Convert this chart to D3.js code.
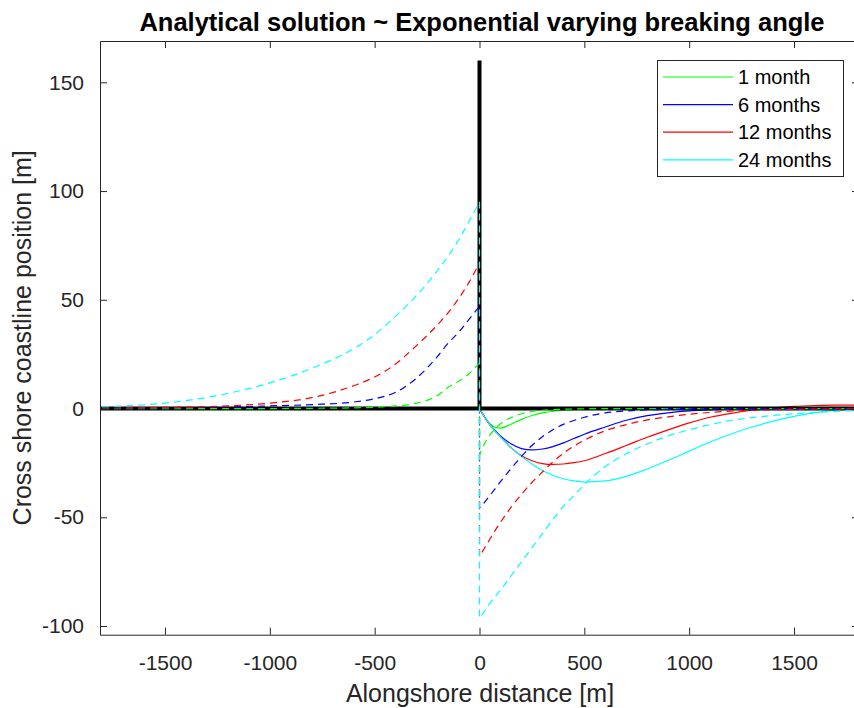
<!DOCTYPE html>
<html>
<head>
<meta charset="utf-8">
<script src="https://cdn.jsdelivr.net/npm/d3@7"></script>
<style>
  html, body { margin: 0; padding: 0; background: #fff; }
  svg { display: block; font-family: "Liberation Sans", Arial, Helvetica, sans-serif; }
</style>
</head>
<body>
<svg id="chart" width="854" height="708"></svg>
<script>
// ---------------- DATA ----------------
const seriesNames = ["1 month", "6 months", "12 months", "24 months"];
const seriesColors = ["#00ff00", "#0000ff", "#ff0000", "#00ffff"];

const xTicks = [-1500, -1000, -500, 0, 500, 1000, 1500];
const yTicks = [-100, -50, 0, 50, 100, 150];

// alongshore positions, left (updrift) of the groin
const xLeft = [-1800, -1500, -1250, -1000, -800, -600, -500, -400, -300, -200, -150, -100, -50, 0];
// alongshore positions, right (downdrift) of the groin
const xRight = [0, 25, 50, 75, 100, 150, 200, 250, 300, 350, 400, 450, 500, 600, 700, 800, 900, 1000, 1100, 1200, 1300, 1400, 1500, 1600, 1700, 1800];

// dashed curves, left side
const dashLeft1  = [0, 0, 0, 0, 0.1, 0.3, 0.6, 1.2, 2.5, 6, 9.8, 12.5, 16, 21];
const dashLeft6  = [0.1, 0.3, 0.6, 1.2, 1.8, 3, 4.5, 7.5, 14, 24, 30, 35, 41, 47];
const dashLeft12 = [0.2, 0.5, 1, 2.5, 5, 10.5, 14.5, 20.5, 29, 38.5, 44, 50.5, 58, 67];
const dashLeft24 = [0.8, 2.5, 6, 11.8, 18.5, 27.5, 34, 42.5, 52, 63.5, 70, 77.5, 86, 95];

// dashed curves, right side
const dashRight1  = [-21.3, -16, -12.1, -9.3, -7, -4.2, -2.4, -1.4, -0.8, -0.5, -0.3, -0.2, -0.1, 0, 0, 0, 0, 0, 0, 0, 0, 0, 0, 0, 0, 0];
const dashRight6  = [-45.8, -43, -40, -36.8, -33.6, -27.7, -22, -17, -13, -9.8, -7.3, -5.5, -4, -2, -1.1, -0.6, -0.4, -0.2, -0.1, 0, 0, 0, 0, 0, 0, 0];
const dashRight12 = [-68, -64, -60, -56, -52.3, -45.5, -39.5, -34, -29.2, -24.6, -20.6, -17.3, -14.6, -10.2, -7.4, -5.2, -3.8, -2.6, -1.8, -1.2, -0.8, -0.6, -0.4, -0.3, -0.2, -0.1];
const dashRight24 = [-96.4, -93, -89.5, -86.5, -83.5, -77, -70.5, -64, -57.5, -51, -45, -40, -35, -26.7, -20.8, -16.3, -12.5, -9.8, -7.4, -5.5, -4.2, -3.2, -2.4, -1.8, -1.3, -0.9];

// solid curves, left side
const solidLeft1  = [0, 0, 0, 0, 0, 0, 0, 0, 0, 0, 0, 0, 0, 0];
const solidLeft6  = [0, 0, 0, 0, 0, 0, 0, 0, 0, 0, 0, 0, 0, 0];
const solidLeft12 = [0, 0, 0, 0, 0, 0, 0, 0, 0, 0, 0, 0, 0, 0];
const solidLeft24 = [0, 0, 0, 0, 0, 0, 0, 0, 0, 0, 0, 0, 0, 0];

// solid curves, right side
const solidRight1  = [0, -4, -7, -8.7, -9, -7.2, -5, -3.2, -2, -1.3, -0.8, -0.5, -0.3, -0.1, 0, 0, 0, 0, 0, 0, 0, 0, 0, 0, 0, 0];
const solidRight6  = [0, -4, -7.5, -10.2, -12.6, -16.2, -18.4, -19, -18.6, -17.5, -15.8, -13.8, -11.8, -8.5, -5.4, -3.3, -2, -1.1, -0.6, -0.3, -0.1, 0, 0, 0, 0, 0];
const solidRight12 = [0, -4, -7.5, -10.5, -13, -18, -21.7, -24, -25.3, -25.7, -25.5, -24.9, -24, -20.7, -17, -13.2, -9.8, -6.6, -4, -2.2, -0.8, 0.3, 1, 1.4, 1.6, 1.6];
const solidRight24 = [0, -4, -7.5, -10.5, -13, -18, -22, -25.5, -28.5, -30.7, -32.3, -33.3, -33.8, -33.3, -31.2, -27.8, -23.8, -19.6, -15.4, -11.7, -8.5, -5.8, -3.6, -1.9, -0.7, 0.2];

// groin (thick black) and initial coastline
const groinX = [0, 0];
const groinY = [0, 160];
const coastX = [-1810, 1810];
const coastY = [0, 0];

const xDomain = [-1810, 1810];
const yDomain = [-104, 169];

// ---------------- DRAWING ----------------
(function () {
const svg = d3.select("#chart");
const pLeft = 100, pRight = 859, pTop = 41, pBottom = 634.7;
const x = d3.scaleLinear().domain(xDomain).range([pLeft, pRight]);
const y = d3.scaleLinear().domain(yDomain).range([pBottom, pTop]);

const axisColor = "#262626";
const fontFam = "'Liberation Sans', Arial, Helvetica, sans-serif";

svg.append("defs").append("clipPath").attr("id", "clip")
  .append("rect").attr("x", pLeft).attr("y", pTop).attr("width", pRight - pLeft).attr("height", pBottom - pTop);

const plot = svg.append("g").attr("clip-path", "url(#clip)");

const smooth = d3.line().x(d => x(d[0])).y(d => y(d[1])).curve(d3.curveMonotoneX);
function joined(xl, yl, xr, yr) {
  const a = smooth(d3.zip(xl, yl));
  const b = smooth(d3.zip(xr, yr));
  return a + "L" + b.slice(1);
}

const dashL = [dashLeft1, dashLeft6, dashLeft12, dashLeft24];
const dashR = [dashRight1, dashRight6, dashRight12, dashRight24];
const solL = [solidLeft1, solidLeft6, solidLeft12, solidLeft24];
const solR = [solidRight1, solidRight6, solidRight12, solidRight24];

// solid curves first
for (let i = 0; i < 4; i++) {
  plot.append("path").attr("d", joined(xLeft, solL[i], xRight, solR[i]))
    .attr("fill", "none").attr("stroke", seriesColors[i]).attr("stroke-width", 1.2);
}

// black reference lines
const straight = d3.line().x(d => x(d[0])).y(d => y(d[1]));
plot.append("path").attr("d", straight(d3.zip(coastX, coastY)))
  .attr("fill", "none").attr("stroke", "#000").attr("stroke-width", 4);
plot.append("path").attr("d", straight(d3.zip(groinX, groinY)))
  .attr("fill", "none").attr("stroke", "#000").attr("stroke-width", 4);

// dashed curves on top
for (let i = 0; i < 4; i++) {
  plot.append("path").attr("d", joined(xLeft, dashL[i], xRight, dashR[i]))
    .attr("fill", "none").attr("stroke", seriesColors[i]).attr("stroke-width", 1.2)
    .attr("stroke-dasharray", "7,5");
}

// axes
const tickLen = 7;
const fmt = d => String(d);
const xAxisB = d3.axisBottom(x).tickValues(xTicks).tickSizeInner(-tickLen).tickSizeOuter(0).tickPadding(20).tickFormat(fmt);
const xAxisT = d3.axisTop(x).tickValues(xTicks).tickSizeInner(-tickLen).tickSizeOuter(0).tickFormat("");
const yAxisL = d3.axisLeft(y).tickValues(yTicks).tickSizeInner(-tickLen).tickSizeOuter(0).tickPadding(16).tickFormat(fmt);
const yAxisR = d3.axisRight(y).tickValues(yTicks).tickSizeInner(-tickLen).tickSizeOuter(0).tickFormat("");

function style(g) {
  g.select(".domain").attr("stroke", axisColor).attr("stroke-width", 1);
  g.selectAll(".tick line").attr("stroke", axisColor).attr("stroke-width", 1);
  g.selectAll(".tick text").attr("fill", axisColor).attr("font-size", 21)
    .attr("font-family", fontFam);
}
svg.append("g").attr("transform", `translate(0,${pBottom})`).call(xAxisB).call(style);
svg.append("g").attr("transform", `translate(0,${pTop})`).call(xAxisT).call(style);
svg.append("g").attr("transform", `translate(${pLeft},0)`).call(yAxisL).call(style);
svg.append("g").attr("transform", `translate(${pRight},0)`).call(yAxisR).call(style);

// labels
svg.append("text").attr("x", 482).attr("y", 31).attr("text-anchor", "middle")
  .attr("font-size", 25.5).attr("font-weight", "bold").attr("fill", "#000").attr("font-family", fontFam)
  .text("Analytical solution ~ Exponential varying breaking angle");
svg.append("text").attr("x", 480).attr("y", 702).attr("text-anchor", "middle")
  .attr("font-size", 25).attr("fill", axisColor).attr("font-family", fontFam).text("Alongshore distance [m]");
svg.append("text").attr("transform", `translate(31,${(pTop + pBottom) / 2}) rotate(-90)`).attr("text-anchor", "middle")
  .attr("font-size", 25).attr("fill", axisColor).attr("font-family", fontFam).text("Cross shore coastline position [m]");

// legend
const lg = svg.append("g");
lg.append("rect").attr("x", 657.5).attr("y", 60.5).attr("width", 186).attr("height", 116)
  .attr("fill", "#fff").attr("stroke", axisColor).attr("stroke-width", 1);
seriesNames.forEach((name, i) => {
  const yy = 77 + i * 27.6;
  lg.append("line").attr("x1", 663).attr("x2", 733).attr("y1", yy).attr("y2", yy)
    .attr("stroke", seriesColors[i]).attr("stroke-width", 1.2);
  lg.append("text").attr("x", 738).attr("y", yy + 7).attr("font-size", 20).attr("fill", "#000")
    .attr("font-family", fontFam).text(name);
});
})();
</script>
</body>
</html>
